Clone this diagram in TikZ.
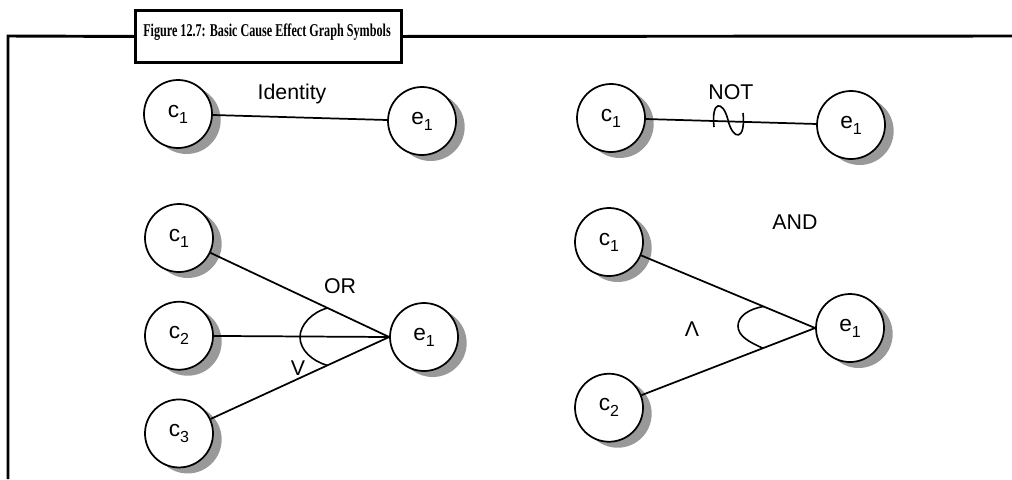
\documentclass[tikz,border=0pt]{standalone}
\usepackage{fontspec}
\setmainfont{Liberation Sans}
\newfontfamily\ttlfont{Liberation Serif}
\usetikzlibrary{positioning, shadows, calc}
\tikzstyle{bubble} = [circle, draw=black, line width=1.3pt, fill=white, minimum size=51pt,
    inner sep=0pt, font=\fontsize{17}{17}\selectfont,
    drop shadow={shadow xshift=6.5pt, shadow yshift=-4.5pt, fill=black!40, opacity=1}]
\tikzstyle{link} = [line width=1.3pt]
\tikzstyle{gate} = [line width=1.2pt]
\tikzstyle{tag} = [font=\fontsize{16}{16}\selectfont, inner sep=0pt]
\tikzstyle{frame} = [line width=2.2pt]
\tikzstyle{titlebox} = [rectangle, draw=black, line width=2.2pt, fill=white,
    minimum width=199.5pt, minimum height=39pt]
\newcommand{\lowsub}[1]{\raisebox{-4.5pt}{\fontsize{12}{12}\selectfont #1}}

\begin{document}
\begin{tikzpicture}[x=0.75pt, y=-0.75pt, node distance=21pt]
\useasboundingbox (0,0) rectangle (1012,479);

% frame and caption
\coordinate (fcorner) at (8,36);
\coordinate (fbottom) at (8,479);
\coordinate (fright) at (1012,36);
\node (title) [titlebox, anchor=north west] at (134,9) {};
\node (titletext) [anchor=base, inner sep=0pt] at (267,36.5)
    {\ttlfont\bfseries\fontsize{13.5}{13.5}\selectfont\scalebox{0.675}[1]{Figure 12.7: Basic Cause Effect Graph Symbols}};
\draw[frame] (fbottom) -- (fcorner) -- (title.west);
\draw[frame] (title.east) -- (fright);

% identity
\node (idc) [bubble] at (178,114) {c\lowsub{1}};
\node (ide) [bubble] at (422,121) {e\lowsub{1}};
\draw[link] (idc) -- (ide);
\node (idlbl) [tag] at (292,94) {Identity};

% not
\node (notc) [bubble] at (611,118) {c\lowsub{1}};
\node (note) [bubble] at (851,125) {e\lowsub{1}};
\draw[link] (notc) -- (note);
\draw[gate] (714,127) .. controls (711,100) and (723,100) .. (728,120)
    .. controls (733,141) and (746,141) .. (743,113);
\node (notlbl) [tag] at (731,92) {NOT};

% or
\node (orc1) [bubble] at (179,238) {c\lowsub{1}};
\node (orc2) [bubble, below=of orc1] {c\lowsub{2}};
\node (orc3) [bubble, below=of orc2] {c\lowsub{3}};
\node (ore) [bubble] at (424,337) {e\lowsub{1}};
\draw[link] (orc1) -- (ore.west);
\draw[link] (orc2) -- (ore.west);
\draw[link] (orc3) -- (ore.west);
\coordinate (ortop) at ($(ore.west)!51pt!(orc1.center)$);
\coordinate (orbot) at ($(ore.west)!51pt!(orc3.center)$);
\draw[gate] (ortop) .. controls (312,312) and (300,325) .. (300,337)
    .. controls (300,350) and (312,361) .. (orbot);
\node (orlbl) [tag] at (340,286) {OR};
\node (orsym) [tag] at (298,368) {V};

% and
\node (andc1) [bubble] at (609,242) {c\lowsub{1}};
\node (andc2) [bubble, below=72pt of andc1] {c\lowsub{2}};
\node (ande) [bubble] at (850,328) {e\lowsub{1}};
\draw[link] (andc1) -- (ande.west);
\draw[link] (andc2) -- (ande.west);
\coordinate (andtop) at ($(ande.west)!42pt!(andc1.center)$);
\coordinate (andbot) at ($(ande.west)!42pt!(andc2.center)$);
\draw[gate] (andtop) .. controls (749,309) and (738,316) .. (738,326)
    .. controls (738,336) and (749,342) .. (andbot);
\node (andlbl) [tag] at (795,222) {AND};
\node (andsym) [tag] at (692,329) {Λ};
\end{tikzpicture}
\end{document}
